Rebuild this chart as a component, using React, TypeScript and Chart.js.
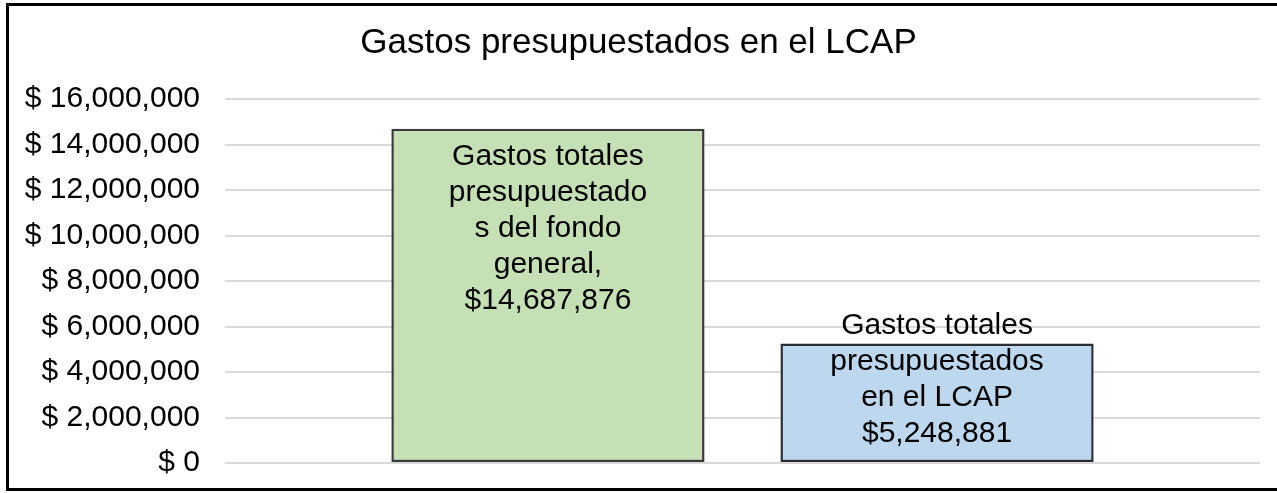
import React, { useEffect, useRef } from 'react';
import { Chart, registerables } from 'chart.js';

Chart.register(...registerables);

const FONT = "'Liberation Sans', Arial, Helvetica, sans-serif";

const chartTitle = 'Gastos presupuestados en el LCAP';
const categories = ['Fondo general', 'LCAP'];
const categoryPositions = [1, 2];
const values = [14687876, 5248881];
const barFill = ['#c5e0b4', '#bdd7ee'];
const barBorder = ['#3a3a3a', '#2a2f36'];
const barLabels = [
  ['Gastos totales', 'presupuestado', 's del fondo', 'general,', '$14,687,876'],
  ['Gastos totales', 'presupuestados', 'en el LCAP', '$5,248,881'],
];
const yTickValues = [0, 2000000, 4000000, 6000000, 8000000, 10000000, 12000000, 14000000, 16000000];

const framePlugin = {
  id: 'frame',
  beforeDraw(chart: any) {
    const { ctx, width, height } = chart;
    ctx.save();
    ctx.fillStyle = '#ffffff';
    ctx.fillRect(0, 0, width, height);
    ctx.restore();
  },
  afterDraw(chart: any) {
    const { ctx } = chart;
    ctx.save();
    ctx.strokeStyle = '#000000';
    ctx.lineWidth = 3;
    ctx.strokeRect(7.5, 4.5, 1320, 485);
    ctx.restore();
  },
};

const barLabelPlugin = {
  id: 'barLabels',
  afterDatasetsDraw(chart: any) {
    const { ctx } = chart;
    const meta = chart.getDatasetMeta(0);
    const lineH = 36;
    const inset = 10;
    ctx.save();
    ctx.font = `30px ${FONT}`;
    ctx.fillStyle = '#000000';
    ctx.textAlign = 'center';
    ctx.textBaseline = 'middle';
    meta.data.forEach((bar: any, i: number) => {
      const lines = barLabels[i] || [];
      const { x, y, base } = bar.getProps(['x', 'y', 'base'], true);
      const blockH = lines.length * lineH;
      const top = Math.min(y + inset, base - inset - blockH);
      lines.forEach((t: string, j: number) => {
        ctx.fillText(t, x, top + lineH * (j + 0.5));
      });
    });
    ctx.restore();
  },
};

export default function App() {
  const canvasRef = useRef<HTMLCanvasElement | null>(null);

  useEffect(() => {
    const canvas = canvasRef.current;
    if (!canvas) return;
    const chart = new Chart(canvas, {
      type: 'bar',
      data: {
        labels: categories,
        datasets: [
          {
            label: chartTitle,
            data: categoryPositions.map((x, i) => ({ x, y: values[i] })),
            backgroundColor: barFill,
            borderColor: barBorder,
            borderWidth: 2.5,
            borderSkipped: false,
            barPercentage: 0.805,
            categoryPercentage: 1,
          },
        ],
      },
      options: {
        responsive: false,
        animation: false,
        events: [],
        layout: { padding: { left: 17, right: 17, top: 0, bottom: 30 } },
        plugins: {
          legend: { display: false },
          tooltip: { enabled: false },
          title: {
            display: true,
            text: chartTitle,
            color: '#000000',
            font: { family: FONT, size: 35, weight: 'normal', lineHeight: 1.2 },
            padding: { top: 22, bottom: 35 },
          },
        },
        scales: {
          x: {
            type: 'linear',
            min: 0.17,
            max: 2.83,
            offset: false,
            display: false,
            grid: { display: false },
            afterBuildTicks: (scale: any) => {
              scale.ticks = categoryPositions.map((v) => ({ value: v }));
            },
          },
          y: {
            min: 0,
            max: 16000000,
            border: { display: false },
            grid: { color: '#d9d9d9', lineWidth: 2, drawTicks: false },
            afterBuildTicks: (scale: any) => {
              scale.ticks = yTickValues.map((v) => ({ value: v }));
            },
            afterFit: (scale: any) => {
              scale.paddingTop = 0;
              scale.paddingBottom = 0;
              scale.width = 208;
            },
            ticks: {
              padding: 25,
              color: '#000000',
              font: { family: FONT, size: 30 },
              autoSkip: false,
              callback: (v: any) => '$ ' + Number(v).toLocaleString('en-US'),
            },
          },
        },
      } as any,
      plugins: [framePlugin, barLabelPlugin],
    });
    return () => chart.destroy();
  }, []);

  return (
    <div style={{ position: 'fixed', left: 0, top: 0, width: 1277, height: 493, overflow: 'hidden', background: '#fff' }}>
      <canvas ref={canvasRef} width={1277} height={493} style={{ display: 'block', width: 1277, height: 493 }} />
    </div>
  );
}
